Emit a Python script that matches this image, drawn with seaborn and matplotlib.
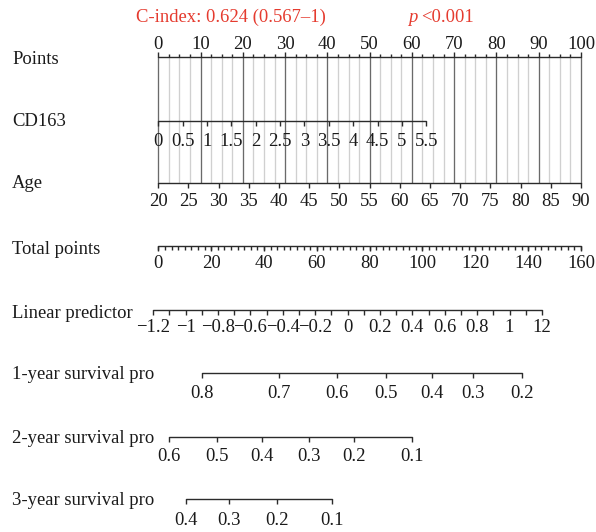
import numpy as np
import pandas as pd
import matplotlib
matplotlib.use("Agg")
import matplotlib.pyplot as plt
import seaborn as sns

# ---------------- data ----------------
points_labels = [0, 10, 20, 30, 40, 50, 60, 70, 80, 90, 100]
points_minor_step = 2.5

cd163_labels = [0, 0.5, 1, 1.5, 2, 2.5, 3, 3.5, 4, 4.5, 5, 5.5]
cd163_points_at_max = 63.4          # points given to CD163 = 5.5

age_labels = [20, 25, 30, 35, 40, 45, 50, 55, 60, 65, 70, 75, 80, 85, 90]
age_points = [0, 100]               # age 20 -> 0 points, age 90 -> 100 points

total_labels = [0, 20, 40, 60, 80, 100, 120, 140, 160]
total_minor_step = 2.5

lp_labels = [-1.2, -1, -0.8, -0.6, -0.4, -0.2, 0, 0.2, 0.4, 0.6, 0.8, 1, 1.2]
lp_texts = ["\u22121.2", "\u22121", "\u22120.8", "\u22120.6", "\u22120.4", "\u22120.2",
            "0", "0.2", "0.4", "0.6", "0.8", "1", "12"]
lp_minor_step = 0.1
lp_total_range = [-1.9, 145.2]      # total points at LP = -1.2 and LP = 1.2

surv1_probs = [0.8, 0.7, 0.6, 0.5, 0.4, 0.3, 0.2]
surv1_total = [16.5, 45.5, 67.5, 86.0, 103.5, 119.0, 137.5]
surv2_probs = [0.6, 0.5, 0.4, 0.3, 0.2, 0.1]
surv2_total = [3.9, 22.1, 39.4, 56.9, 74.2, 96.1]
surv3_probs = [0.4, 0.3, 0.2, 0.1]
surv3_total = [10.6, 26.9, 44.9, 65.8]

row_names = ["Points", "CD163", "Age", "Total points", "Linear predictor",
             "1-year survival pro", "2-year survival pro", "3-year survival pro"]

# ---------------- styling / layout ----------------
sns.set_theme(style="white")
plt.rcParams["font.family"] = ["Liberation Serif", "DejaVu Serif"]
FS = 13.4
TXT = "#1a1a1a"
AX = "#2b2b2b"
RED = "#e53b2f"

W, H = 596, 532
X0, SCALE = 158.3, 4.227          # pixel of 0 points, pixels per point
row_y = [57, 121, 183, 246, 310, 373, 437, 499]
label_base = [64, 126, 188, 254, 318, 379, 443, 505]

fig = plt.figure(figsize=(W / 100, H / 100), dpi=100)
ax = fig.add_axes([0, 0, 1, 1])


def px(x_pixel):
    return (x_pixel - X0) / SCALE


def tot2pts(t):
    return np.asarray(t, dtype=float) * 100.0 / 160.0


def baseline(x_a, x_b, y):
    df = pd.DataFrame({"x": [x_a, x_b], "y": [y, y]})
    sns.lineplot(data=df, x="x", y="y", ax=ax, color=AX, linewidth=1.0,
                 estimator=None, sort=False, legend=False)


def ticks(xs, y, length, up=False):
    y2 = y - length if up else y + length
    ax.vlines(xs, y, y2, color=AX, linewidth=1.0)


def tick_labels(xs, texts, ybase):
    for x, t in zip(xs, texts):
        ax.text(x, ybase, t, ha="center", va="baseline", fontsize=FS, color=TXT)


def fmt(v):
    return f"{v:g}"


# grid lines (points scale) spanning Points -> Age
grid_pts = np.arange(0, 100 + 1e-9, points_minor_step)
for g in grid_pts:
    major = abs(g / 10 - round(g / 10)) < 1e-9
    ax.vlines(g, row_y[0], row_y[2], color="#6a6a6a" if major else "#d0d0d0",
              linewidth=0.95, zorder=1)

# Points
baseline(points_labels[0], points_labels[-1], row_y[0])
ticks(points_labels, row_y[0], 5.5, up=True)
ticks([g for g in grid_pts if g not in points_labels], row_y[0], 3.5, up=True)
for x, t in zip(points_labels, points_labels):
    ax.text(x, 49, str(t), ha="center", va="baseline", fontsize=FS, color=TXT)

# CD163
cd_pts = np.array(cd163_labels) / cd163_labels[-1] * cd163_points_at_max
baseline(cd_pts[0], cd_pts[-1], row_y[1])
ticks(cd_pts, row_y[1], 5)
tick_labels(cd_pts, [fmt(v) for v in cd163_labels], 146)

# Age
age_pts = np.interp(age_labels, [age_labels[0], age_labels[-1]], age_points)
baseline(age_pts[0], age_pts[-1], row_y[2])
ticks(age_pts, row_y[2], 5)
tick_labels(age_pts, [str(v) for v in age_labels], 206)

# Total points
tot_pts = tot2pts(total_labels)
baseline(tot_pts[0], tot_pts[-1], row_y[3])
ticks(tot_pts, row_y[3], 5)
tot_minor = tot2pts(np.arange(total_labels[0], total_labels[-1] + 1e-9, total_minor_step))
ticks(tot_minor, row_y[3], 3.5)
tick_labels(tot_pts, [str(v) for v in total_labels], 268)

# Linear predictor
lp_pts = tot2pts(np.interp(lp_labels, [lp_labels[0], lp_labels[-1]], lp_total_range))
lp_minor = np.arange(lp_labels[0], lp_labels[-1] + 1e-9, lp_minor_step)
lp_minor_pts = tot2pts(np.interp(lp_minor, [lp_labels[0], lp_labels[-1]], lp_total_range))
baseline(lp_pts[0], lp_pts[-1], row_y[4])
ticks(lp_minor_pts, row_y[4], 4.5)
tick_labels(lp_pts, lp_texts, 332)

# Survival scales
for probs, tots, y, yl in [(surv1_probs, surv1_total, row_y[5], 398),
                           (surv2_probs, surv2_total, row_y[6], 461),
                           (surv3_probs, surv3_total, row_y[7], 525)]:
    sp = tot2pts(tots)
    baseline(sp[0], sp[-1], y)
    ticks(sp, y, 5)
    tick_labels(sp, [fmt(v) for v in probs], yl)

# Row labels
for name, yb in zip(row_names, label_base):
    ax.text(px(12), yb, name, ha="left", va="baseline", fontsize=FS, color=TXT)

# Title texts
ax.text(px(136), 22, "C-index: 0.624 (0.567\u20131)", ha="left", va="baseline",
        fontsize=FS, color=RED)
ax.text(px(408), 22, "p", ha="left", va="baseline", fontsize=FS, color=RED,
        style="italic")
ax.text(px(421), 22, "<0.001", ha="left", va="baseline", fontsize=FS, color=RED)

ax.set_xlim(px(0), px(W))
ax.set_ylim(H, 0)
ax.axis("off")
fig.savefig("out.png", dpi=100, facecolor="white")
